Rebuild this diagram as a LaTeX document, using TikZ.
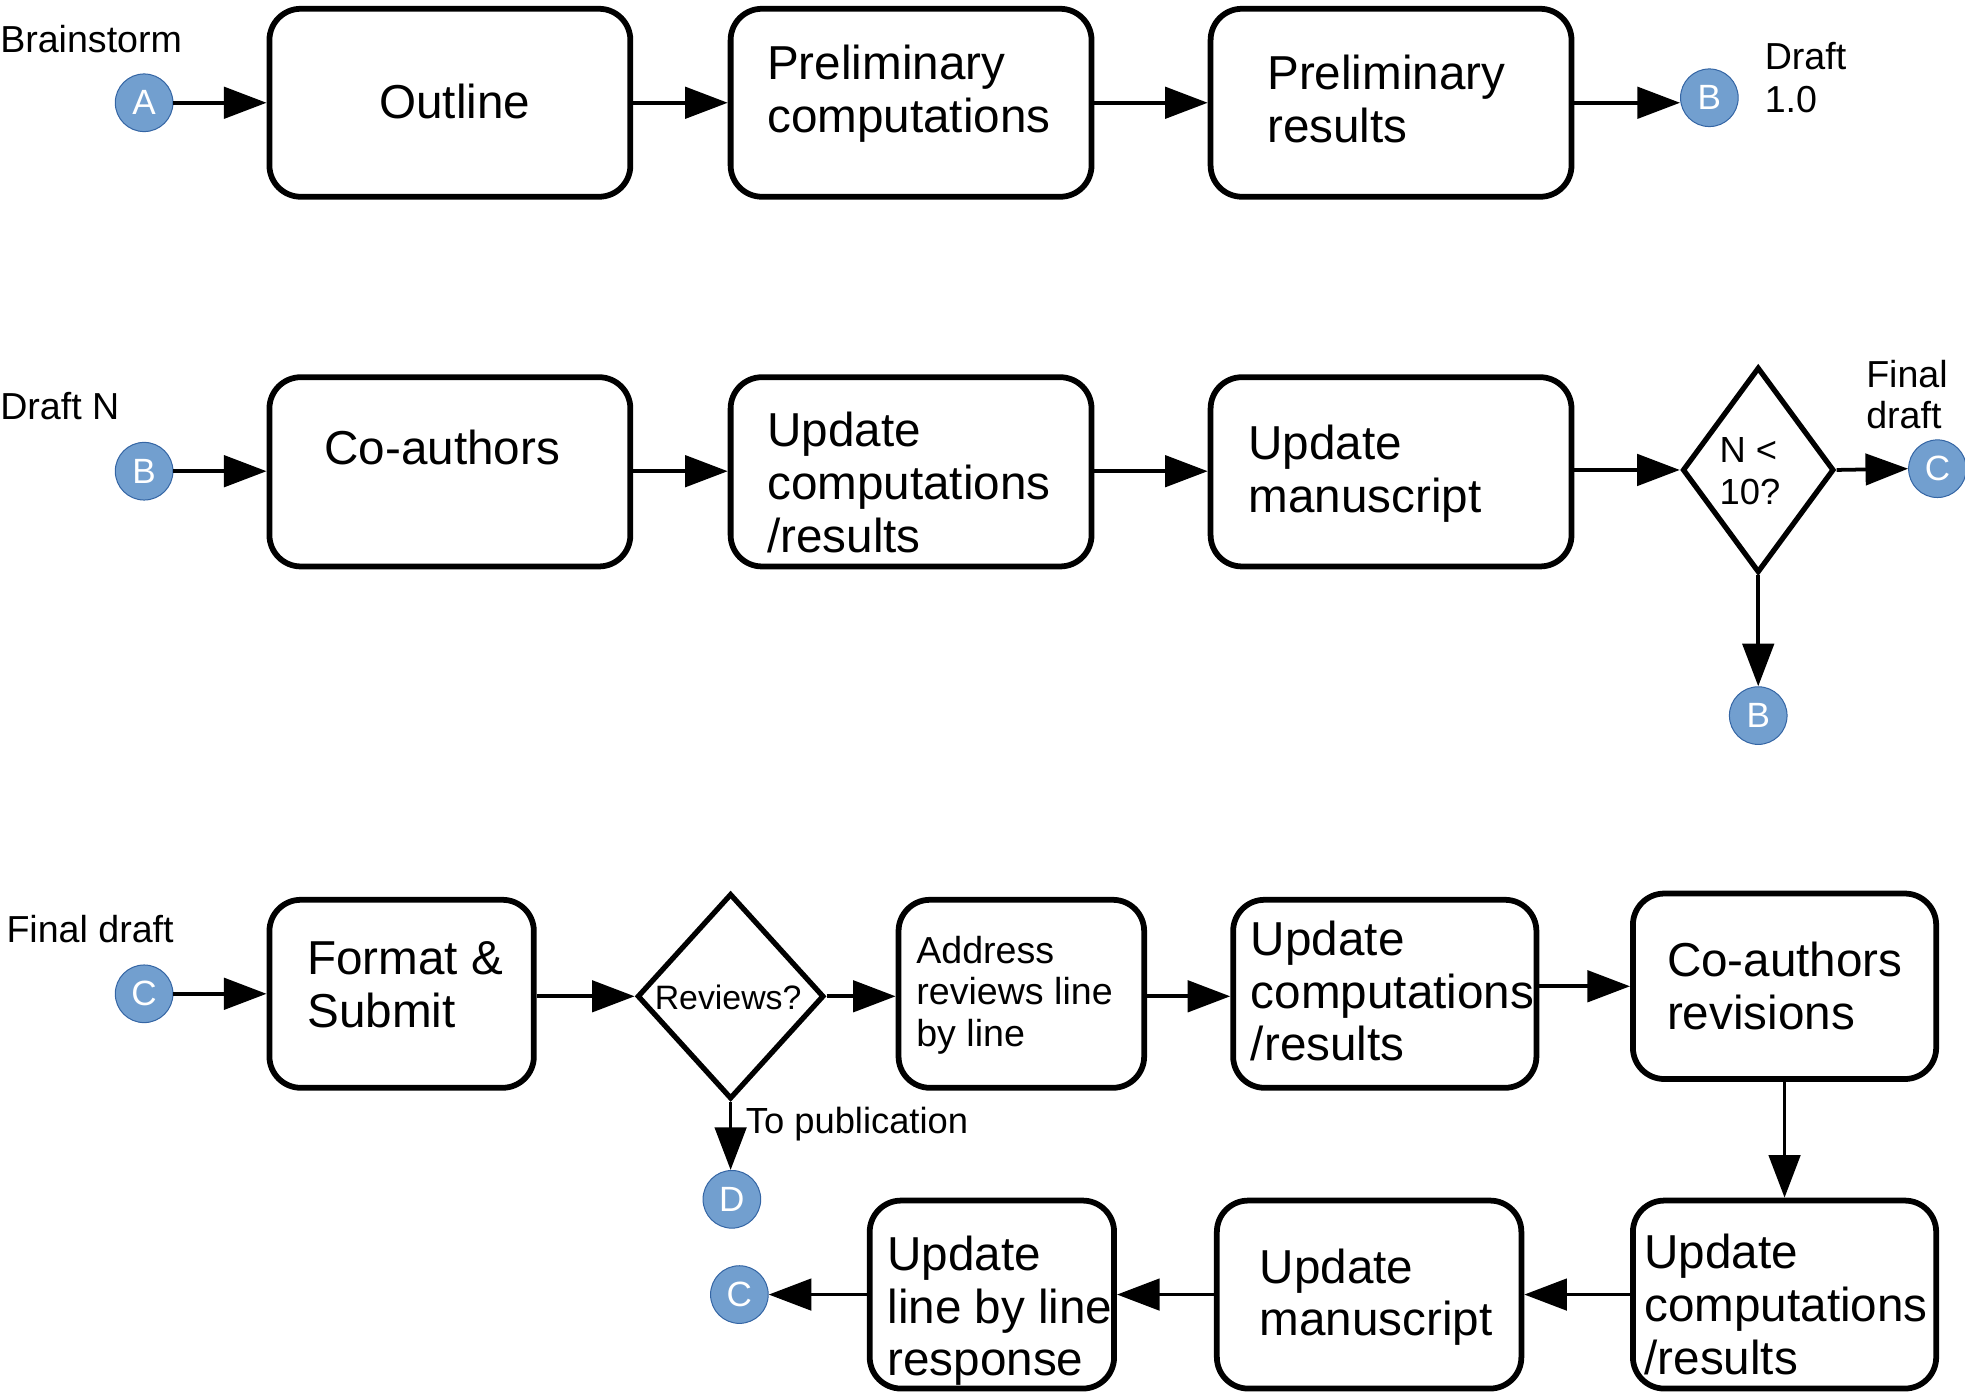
\documentclass[tikz,border=0pt]{standalone}
\usepackage{fontspec}
\setmainfont{Liberation Sans}
\usetikzlibrary{arrows.meta,shapes.geometric}
\definecolor{connfill}{HTML}{729FCF}
\definecolor{connline}{HTML}{3465A4}
\tikzset{
  box/.style={draw, line width=4.6pt, rounded corners=25pt, inner sep=0pt, fill=white},
  decision/.style={draw, diamond, line width=4.2pt, inner sep=0pt, aspect=0.75},
  conn/.style={circle, fill=connfill, draw=connline, line width=0.8pt, minimum size=46pt,
    inner sep=0pt, text=white, font=\fontsize{28}{30}\selectfont},
  arr/.style={line width=3pt, -{Triangle[length=34pt,width=25pt]}},
  big/.style={inner sep=0pt, align=left, font=\fontsize{38}{42}\selectfont},
  mid/.style={inner sep=0pt, align=left, font=\fontsize{30}{33}\selectfont},
  lab/.style={inner sep=0pt, align=left, anchor=west, font=\fontsize{30}{33}\selectfont},
}
\begin{document}
\begin{tikzpicture}[x=1pt, y=-1pt]
\useasboundingbox (0,0) rectangle (1568,1112);

% ---------- first row: from brainstorm to draft 1.0
\node[lab] (lbrain) at (0,31) {Brainstorm};
\node[conn] (a1) at (115,82) {A};
\node[box, minimum width=288pt, minimum height=150pt] (outline) at (359,82) {};
\node[big] (toutline) at (363,81) {Outline};
\node[box, minimum width=288pt, minimum height=150pt] (pcomp) at (727,82) {};
\node[big, anchor=west] (tpcomp) at (612,75) {Preliminary\\computations};
\node[box, minimum width=288pt, minimum height=150pt] (pres) at (1110,82) {};
\node[big, anchor=west] (tpres) at (1011,79) {Preliminary\\results};
\node[conn] (b1) at (1364,78) {B};
\node[lab] (ldraft) at (1408,62) {Draft\\[1pt]1.0};

\draw[arr] (a1.east) -- (outline.west);
\draw[arr] (outline.east) -- (pcomp.west);
\draw[arr] (pcomp.east) -- (pres.west);
\draw[arr] (pres.east) -- (pres.east -| b1.west);

% ---------- second row: draft N loop
\node[lab] (ldraftn) at (0,324) {Draft N};
\node[conn] (b2) at (115,376) {B};
\node[box, minimum width=288pt, minimum height=151pt] (coauth) at (359,376.5) {};
\node[big] (tcoauth) at (353,357) {Co-authors};
\node[box, minimum width=288pt, minimum height=151pt] (ucomp) at (727,376.5) {};
\node[big, anchor=west] (tucomp) at (612,385) {Update\\computations\\/results};
\node[box, minimum width=288pt, minimum height=151pt] (uman) at (1110,376.5) {};
\node[big, anchor=west] (tuman) at (996,378) {Update\\manuscript};
\node[decision, minimum width=121pt, minimum height=164pt] (ncheck) at (1403,375) {};
\node[mid, anchor=west, font=\fontsize{29}{33}\selectfont] (tncheck) at (1372,376) {N <\\10?};
\node[conn] (c2) at (1546,374) {C};
\node[conn] (b3) at (1403,571) {B};
\node[lab] (lfinal) at (1489,315) {Final\\draft};

\draw[arr] (b2.east) -- (b2.east -| coauth.west);
\draw[arr] (coauth.east |- b2.east) -- (ucomp.west |- b2.east);
\draw[arr] (ucomp.east |- b2.east) -- (uman.west |- b2.east);
\draw[arr] (uman.east |- ncheck.west) -- (ncheck.west);
\draw[arr] (ncheck.east) -- (c2.west);
\draw[arr] (ncheck.south) -- (b3.north);

% ---------- third row: submission and revisions
\node[lab] (lfinal2) at (5,741) {Final draft};
\node[conn] (c3) at (115,793) {C};
\node[box, minimum width=211pt, minimum height=150pt] (fsub) at (320.5,793) {};
\node[big, anchor=west] (tfsub) at (245,786) {Format \&\\Submit};
\node[decision, minimum width=149pt, minimum height=164pt] (revq) at (583,795) {};
\node[inner sep=0pt, font=\fontsize{27}{30}\selectfont] (trevq) at (581,796) {Reviews?};
\node[conn] (d1) at (584,957) {D};
\node[lab, font=\fontsize{29}{32}\selectfont] (lpub) at (595,897) {To publication};
\node[box, minimum width=196pt, minimum height=150pt] (addr) at (815,793) {};
\node[mid, anchor=west] (taddr) at (731,794) {Address\\reviews line\\by line};
\node[box, minimum width=242pt, minimum height=150pt] (ucomp3) at (1105,793) {};
\node[big, anchor=west] (tucomp3) at (998,791) {Update\\computations\\/results};
\node[box, minimum width=242pt, minimum height=148pt] (corev) at (1424,787) {};
\node[big, anchor=west] (tcorev) at (1330,787) {Co-authors\\revisions};

% ---------- bottom row, running right to left
\node[box, minimum width=242pt, minimum height=150pt] (ucomp4) at (1424,1033) {};
\node[big, anchor=west] (tucomp4) at (1312,1041) {Update\\computations\\/results};
\node[box, minimum width=243pt, minimum height=150pt] (uman4) at (1092.5,1033) {};
\node[big, anchor=west] (tuman4) at (1005,1035) {Update\\manuscript};
\node[box, minimum width=195pt, minimum height=150pt] (uline) at (791.5,1033) {};
\node[big, anchor=west] (tuline) at (708,1046) {Update\\line by line\\response};
\node[conn] (c4) at (590,1033) {C};

\draw[arr] (c3.east) -- (c3.east -| fsub.west);
\draw[arr] (fsub.east |- revq.west) -- (revq.west);
\draw[arr] (revq.east) -- (revq.east -| addr.west);
\draw[arr] (addr.east |- revq.east) -- (ucomp3.west |- revq.east);
\draw[arr] (ucomp3.east |- corev.west) -- (corev.west);
\draw[arr] (revq.south) -- (revq.south |- d1.north);
\draw[arr] (corev.south) -- (ucomp4.north);
\draw[arr] (ucomp4.west) -- (uman4.east);
\draw[arr] (uman4.west) -- (uline.east);
\draw[arr] (uline.west) -- (c4.east);
\end{tikzpicture}
\end{document}
